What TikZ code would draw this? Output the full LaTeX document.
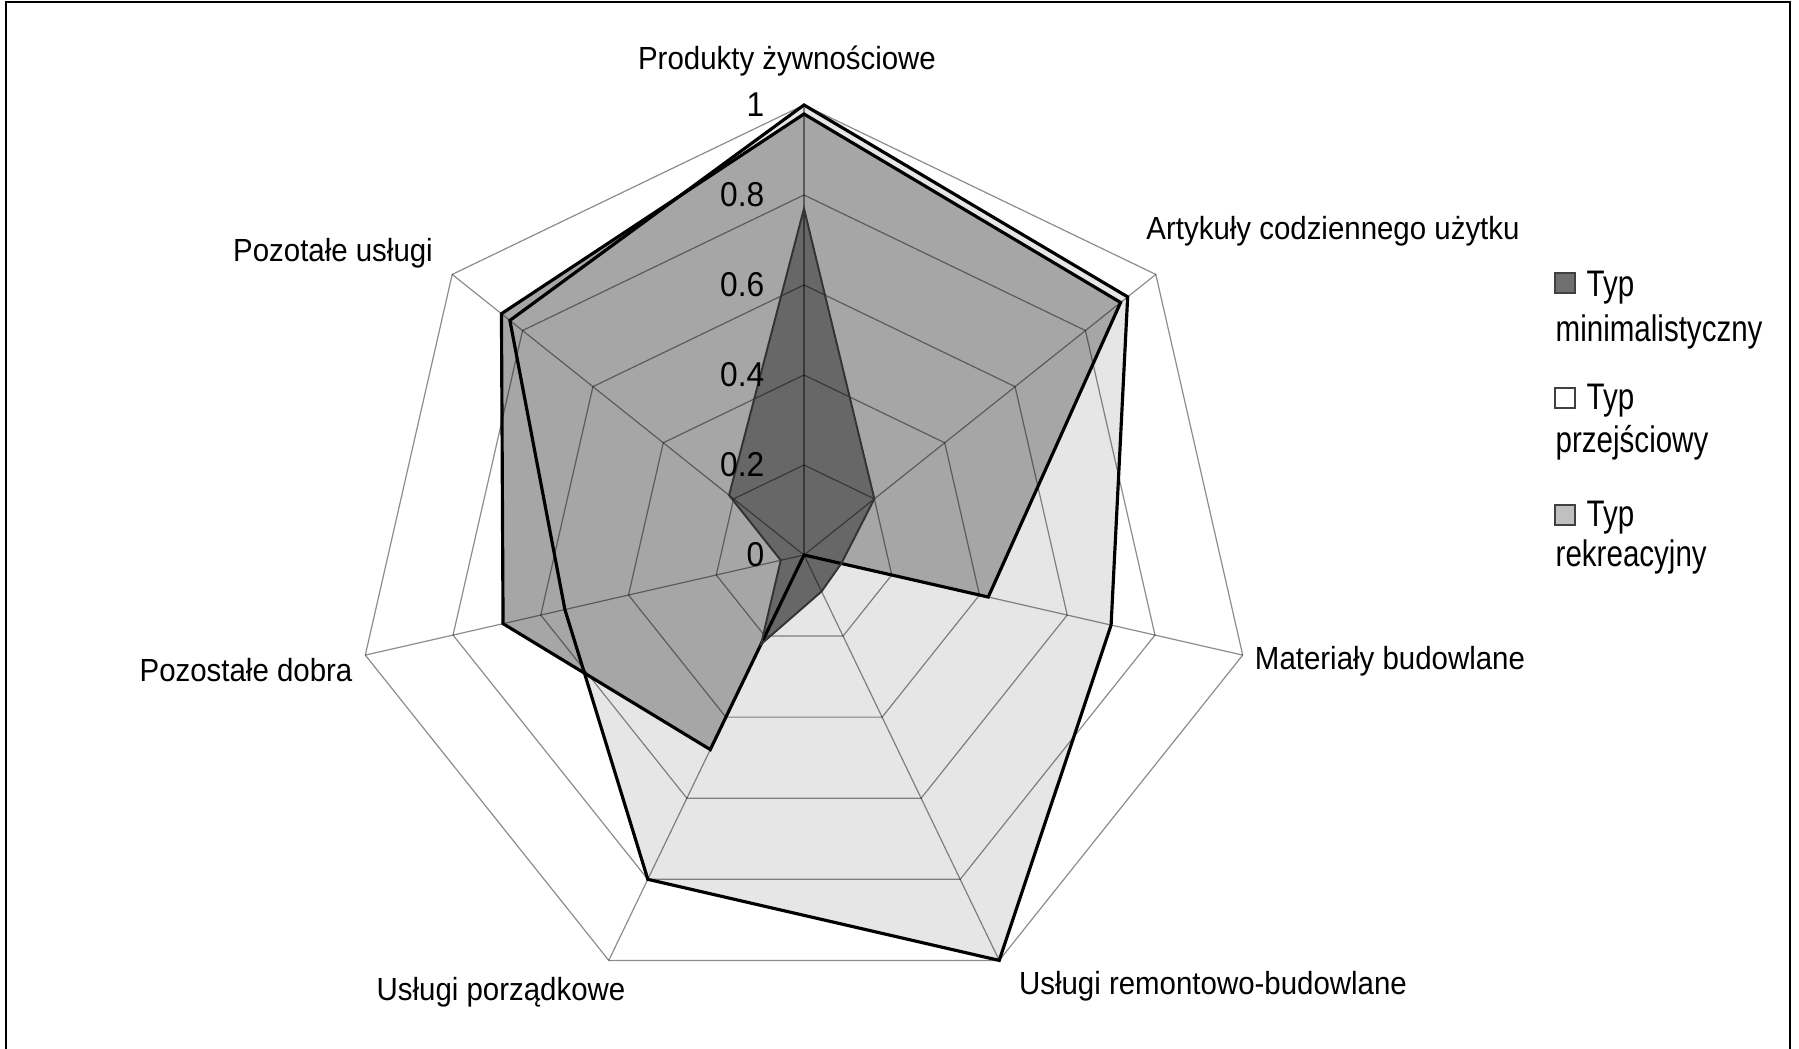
\documentclass[tikz,border=0pt]{standalone}
\usepackage{fontspec}
\setmainfont{Liberation Sans}[FakeStretch=0.92]
\newfontfamily\legfont{Liberation Sans}[FakeStretch=0.8]
\usetikzlibrary{calc}
\definecolor{fillA}{HTML}{E6E6E6}
\definecolor{fillB}{HTML}{A6A6A6}
\definecolor{fillC}{HTML}{676767}
\definecolor{legA}{HTML}{6F6F6F}
\definecolor{legC}{HTML}{C0C0C0}
\begin{document}
\begin{tikzpicture}[x=0.01cm,y=0.01cm,
  gridline/.style={black,opacity=0.45,line width=0.34pt},
  outl/.style={draw=black,line width=0.9pt,line join=miter},
  darkoutl/.style={draw=black!80,line width=0.55pt,line join=miter},
  catlabel/.style={font=\fontsize{9.1}{11}\selectfont,inner sep=0pt,anchor=base},
  scalelabel/.style={font=\fontsize{9.8}{11}\selectfont,inner sep=0pt,anchor=east},
  legtext/.style={font=\legfont\fontsize{10.5}{12}\selectfont,inner sep=0pt,anchor=base west},
  legbox/.style={draw=black!75,line width=0.4pt,minimum size=0.2cm,inner sep=0pt}
]
\useasboundingbox (0,0) rectangle (1799,1049);
\fill[white] (0,0) rectangle (1799,1049);
\draw[black,line width=0.57pt] (6,-20) -- (6,1047) -- (1790,1047) -- (1790,-20);
\coordinate (C) at (804,494);
\begin{scope}[shift={(C)}]
  \foreach \v [count=\k from 0] in {1.0,0.92,0.70,1.0,0.80,0.545,0.836}
    \coordinate (a\k) at ({90-\k*360/7}:{\v*450});
  \foreach \v [count=\k from 0] in {0.98,0.90,0.42,0.0,0.48,0.686,0.86}
    \coordinate (b\k) at ({90-\k*360/7}:{\v*450});
  \foreach \v [count=\k from 0] in {0.77,0.20,0.085,0.09,0.22,0.053,0.213}
    \coordinate (c\k) at ({90-\k*360/7}:{\v*450});
\end{scope}
% fills
\fill[fillA] (a0)--(a1)--(a2)--(a3)--(a4)--(a5)--(a6)--cycle;
\fill[fillB] (b0)--(b1)--(b2)--(b3)--(b4)--(b5)--(b6)--cycle;
\fill[fillC] (c0)--(c1)--(c2)--(c3)--(c4)--(c5)--(c6)--cycle;
% grid
\begin{scope}[shift={(C)}]
  \foreach \r in {90,180,270,360,450}
    \draw[gridline] (90:\r) \foreach \k in {1,...,6} { -- ({90-\k*360/7}:\r) } -- cycle;
  \foreach \k in {0,...,6}
    \draw[gridline] (0,0) -- ({90-\k*360/7}:450);
\end{scope}
% outlines
\draw[outl] (a0)--(a1)--(a2)--(a3)--(a4)--(a5)--(a6)--cycle;
\draw[outl] (b0)--(b1)--(b2)--(b3)--(b4)--(b5)--(b6)--cycle;
\draw[darkoutl] (c0)--(c1)--(c2)--(c3)--(c4)--(c5)--(c6)--cycle;
% scale labels
\node[scalelabel] (s0) at (765,494) {0};
\node[scalelabel] (s2) at (765,584) {0.2};
\node[scalelabel] (s4) at (765,674) {0.4};
\node[scalelabel] (s6) at (765,764) {0.6};
\node[scalelabel] (s8) at (765,854) {0.8};
\node[scalelabel] (s10) at (765,944) {1};
% category labels
\node[catlabel] (l0) at (787,979) {Produkty żywnościowe};
\node[catlabel] (l1) at (1333,809) {Artykuły codziennego użytku};
\node[catlabel] (l2) at (1390,379) {Materiały budowlane};
\node[catlabel] (l3) at (1213,54) {Usługi remontowo-budowlane};
\node[catlabel] (l4) at (501,48) {Usługi porządkowe};
\node[catlabel] (l5) at (246,367) {Pozostałe dobra};
\node[catlabel] (l6) at (333,787) {Pozotałe usługi};
% legend
\node[legbox,fill=legA] (k1) at (1565,766) {};
\node[legtext] (t1) at (1586,752) {Typ};
\node[legtext] (u1) at (1555,707) {minimalistyczny};
\node[legbox,fill=white] (k2) at (1565,651) {};
\node[legtext] (t2) at (1586,639) {Typ};
\node[legtext] (u2) at (1555,596) {przejściowy};
\node[legbox,fill=legC] (k3) at (1565,534) {};
\node[legtext] (t3) at (1586,522) {Typ};
\node[legtext] (u3) at (1555,482) {rekreacyjny};
\end{tikzpicture}
\end{document}
